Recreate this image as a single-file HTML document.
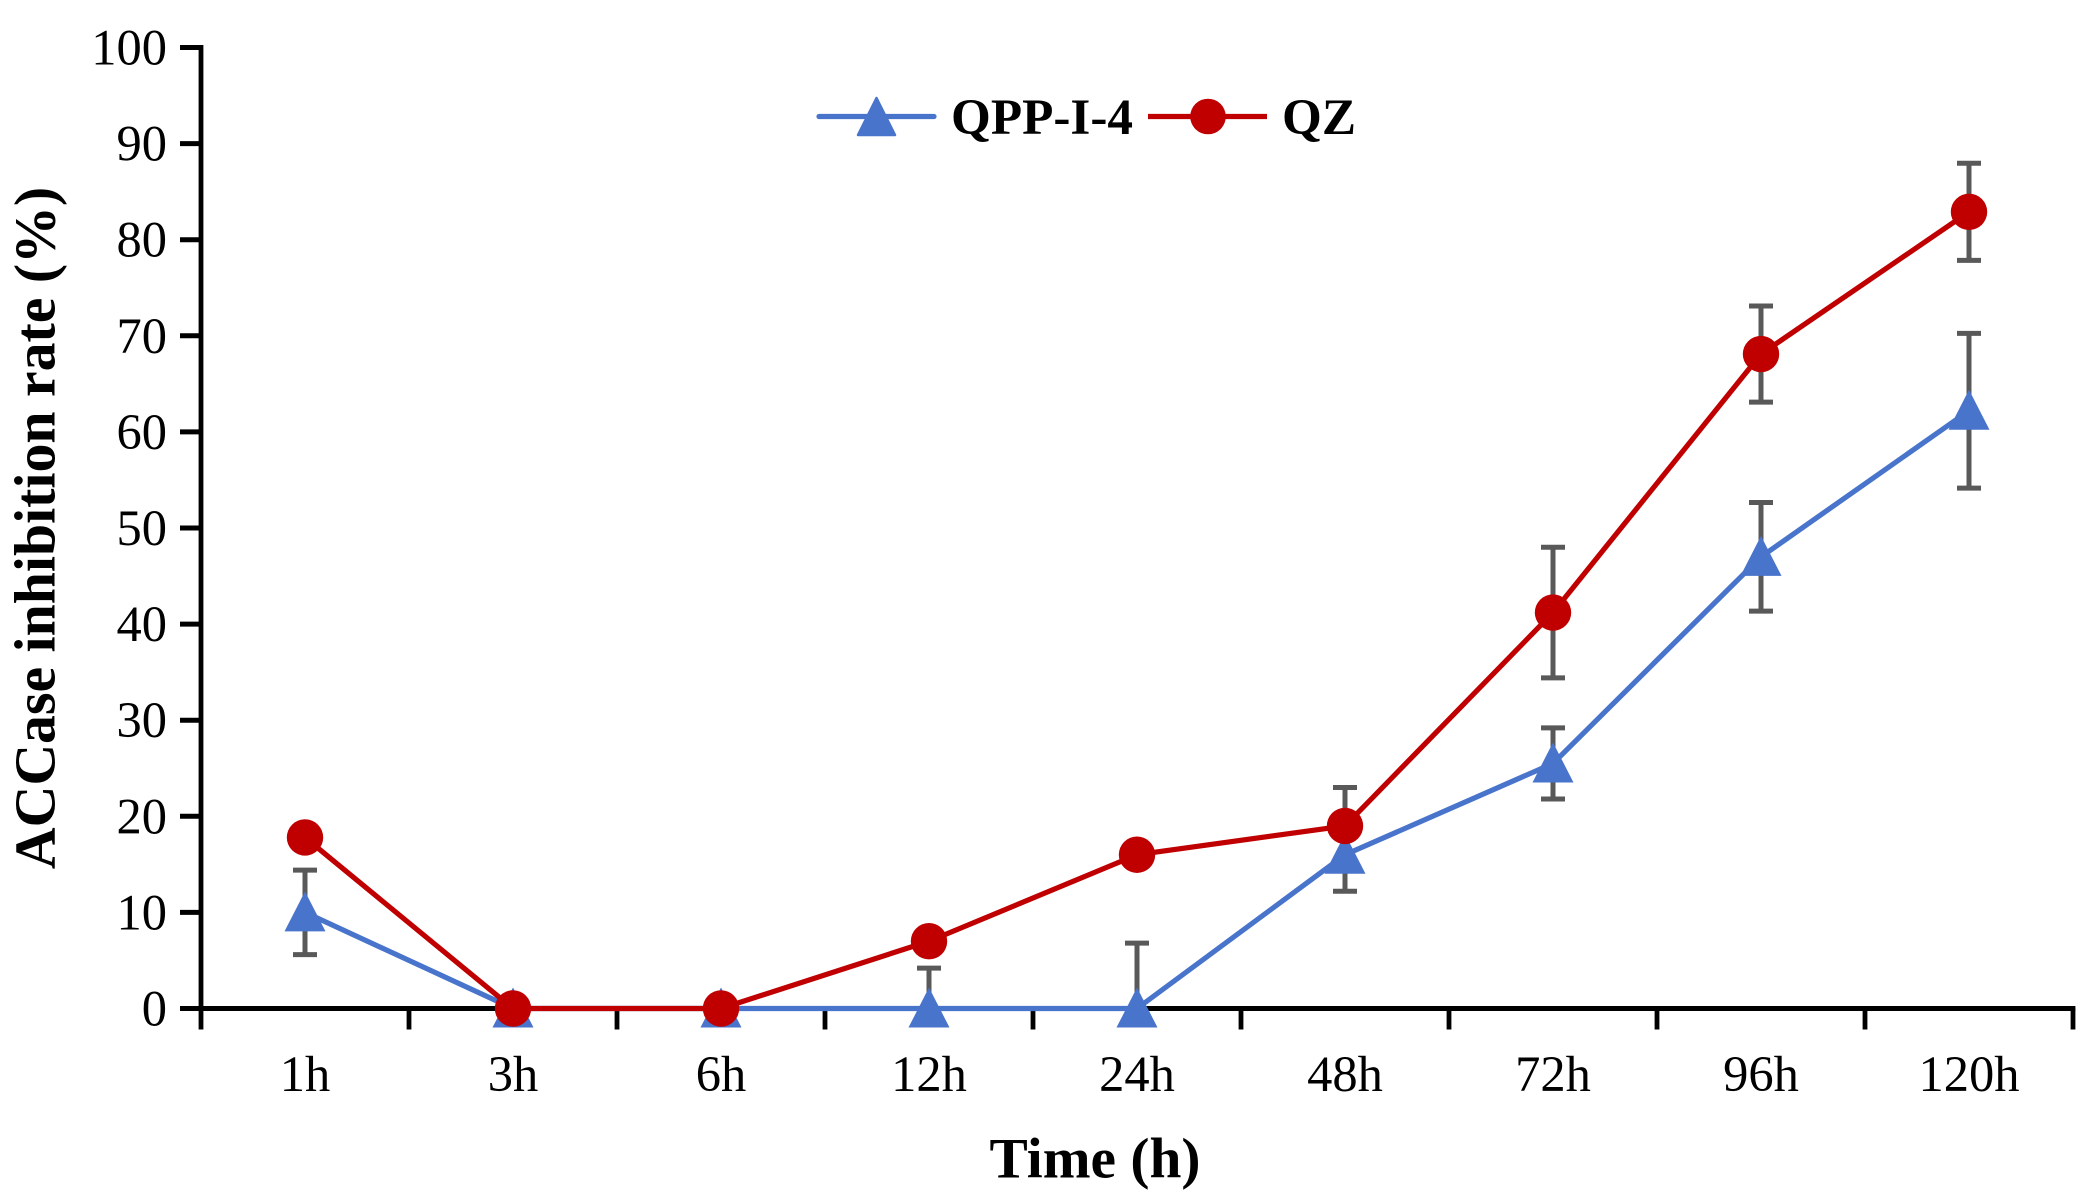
<!DOCTYPE html>
<html lang="en">
<head>
<meta charset="utf-8">
<title>ACCase inhibition rate over time</title>
<style>
html,body{margin:0;padding:0;background:#fff;}
svg{display:block;}
text{font-family:"Liberation Serif",serif;fill:#000;}
.bold{font-weight:bold;}
</style>
</head>
<body>
<svg id="chart" xmlns="http://www.w3.org/2000/svg" width="2099" height="1203" viewBox="0 0 2099 1203">
  <rect x="0" y="0" width="2099" height="1203" fill="#ffffff"/>
  <g id="axes"></g>
  <g id="errors"></g>
  <g id="series"></g>

  <g>
    <g>
      <line x1="819" y1="116.5" x2="934" y2="116.5" stroke="#4874CB" stroke-width="5.2" stroke-linecap="round"/>
      <polygon points="876.5,98 895,135 858,135" fill="#4874CB" stroke="#4874CB" stroke-width="2.5" stroke-linejoin="round"/>
      <text class="bold" x="951" y="134" font-size="51.2">QPP-I-4</text>
    </g>
    <g>
      <line x1="1148" y1="116.5" x2="1267" y2="116.5" stroke="#C00000" stroke-width="5.2"/>
      <circle cx="1208" cy="116.5" r="17.8" fill="#C00000"/>
      <text class="bold" x="1282" y="134" font-size="51.2">QZ</text>
    </g>
  </g>

  <text class="bold" font-size="57.8" text-anchor="middle" transform="translate(54.5 528) rotate(-90)">ACCase inhibition rate (%)</text>
  <text class="bold" font-size="57.4" text-anchor="middle" x="1095" y="1177.5">Time (h)</text>
</svg>

<script>
const categories = ['1h', '3h', '6h', '12h', '24h', '48h', '72h', '96h', '120h'];
const yTickLabels = [0, 10, 20, 30, 40, 50, 60, 70, 80, 90, 100];
const qppValues = [10, 0, 0, 0, 0, 16, 25.5, 47, 62.2];
const qppErrors = [4.4, 0, 0, 4.2, 6.8, 3.8, 3.7, 5.65, 8.05];
const qzValues = [17.8, 0, 0, 7, 16, 19, 41.2, 68.1, 82.9];
const qzErrors = [0, 0, 0, 0, 0, 4, 6.8, 5, 5.05];

const NS = 'http://www.w3.org/2000/svg';
const plotLeft = 201, plotRight = 2073, plotTop = 47.5, plotBottom = 1008.5;
const yMin = 0, yMax = 100;
const BLUE = '#4874CB', RED = '#C00000', GREY = '#595959';

function yScale(v) {
  return plotBottom - (v - yMin) / (yMax - yMin) * (plotBottom - plotTop);
}
function bandEdge(i) {
  return plotLeft + i * (plotRight - plotLeft) / categories.length;
}
function xScale(i) {
  return bandEdge(i + 0.5);
}
function make(tag, parent) {
  const el = document.createElementNS(NS, tag);
  parent.appendChild(el);
  return el;
}
function drawLine(parent, x1, y1, x2, y2, color, width) {
  const el = make('line', parent);
  el.setAttribute('x1', x1);
  el.setAttribute('y1', y1);
  el.setAttribute('x2', x2);
  el.setAttribute('y2', y2);
  el.setAttribute('stroke', color);
  el.setAttribute('stroke-width', width);
  return el;
}

const axes = document.getElementById('axes');
const yAxisLine = drawLine(axes, plotLeft, plotTop - 2.5, plotLeft, plotBottom + 21, '#000', 4.8);


const xAxisLine = drawLine(axes, plotLeft - 21, plotBottom, plotRight + 2.4, plotBottom, '#000', 5);



yTickLabels.forEach(function (v) {
  const y = yScale(v);
  const tick = drawLine(axes, plotLeft - 21, y, plotLeft, y, '#000', 5);
  
  
  const label = make('text', axes);
  
  
  label.setAttribute('x', 167);
  label.setAttribute('y', y + 17);
  label.setAttribute('font-size', 50.5);
  label.setAttribute('text-anchor', 'end');
  label.textContent = v;
});

for (let i = 1; i <= categories.length; i++) {
  const x = bandEdge(i);
  const tick = drawLine(axes, x, plotBottom, x, plotBottom + 21, '#000', 4.8);
  
  
}
categories.forEach(function (c, i) {
  const label = make('text', axes);
  
  
  label.setAttribute('x', xScale(i));
  label.setAttribute('y', 1091);
  label.setAttribute('font-size', 50.5);
  label.setAttribute('text-anchor', 'middle');
  label.textContent = c;
});

const errorsGroup = document.getElementById('errors');
function drawErrors(values, errors, key) {
  values.forEach(function (v, i) {
    const err = errors[i];
    if (!err) return;
    const x = xScale(i);
    const hi = v + err;
    const lo = v - err;
    const stem = drawLine(errorsGroup, x, yScale(hi), x, yScale(Math.max(lo, yMin)), GREY, 5);
    
    
    const capTop = drawLine(errorsGroup, x - 12, yScale(hi), x + 12, yScale(hi), GREY, 5);
    
    
    if (lo >= yMin) {
      const capBottom = drawLine(errorsGroup, x - 12, yScale(lo), x + 12, yScale(lo), GREY, 5);
      
      
    }
  });
}
drawErrors(qppValues, qppErrors, 'qpp-i-4');
drawErrors(qzValues, qzErrors, 'qz');

const seriesGroup = document.getElementById('series');
function pointString(values) {
  return values.map(function (v, i) { return xScale(i) + ',' + yScale(v); }).join(' ');
}
function drawSeriesLine(values, color, name) {
  const pl = make('polyline', seriesGroup);
  
  
  pl.setAttribute('points', pointString(values));
  pl.setAttribute('fill', 'none');
  pl.setAttribute('stroke', color);
  pl.setAttribute('stroke-width', 5.2);
  pl.setAttribute('stroke-linejoin', 'round');
}

drawSeriesLine(qppValues, BLUE, 'line-qpp-i-4');
qppValues.forEach(function (v, i) {
  const x = xScale(i), y = yScale(v);
  const tri = make('polygon', seriesGroup);
  
  
  tri.setAttribute('points', x + ',' + (y - 21) + ' ' + (x + 20.5) + ',' + (y + 19) + ' ' + (x - 20.5) + ',' + (y + 19));
  tri.setAttribute('fill', BLUE);
});

drawSeriesLine(qzValues, RED, 'line-qz');
qzValues.forEach(function (v, i) {
  const c = make('circle', seriesGroup);
  
  
  c.setAttribute('cx', xScale(i));
  c.setAttribute('cy', yScale(v));
  c.setAttribute('r', 18.2);
  c.setAttribute('fill', RED);
});
</script>
</body>
</html>
